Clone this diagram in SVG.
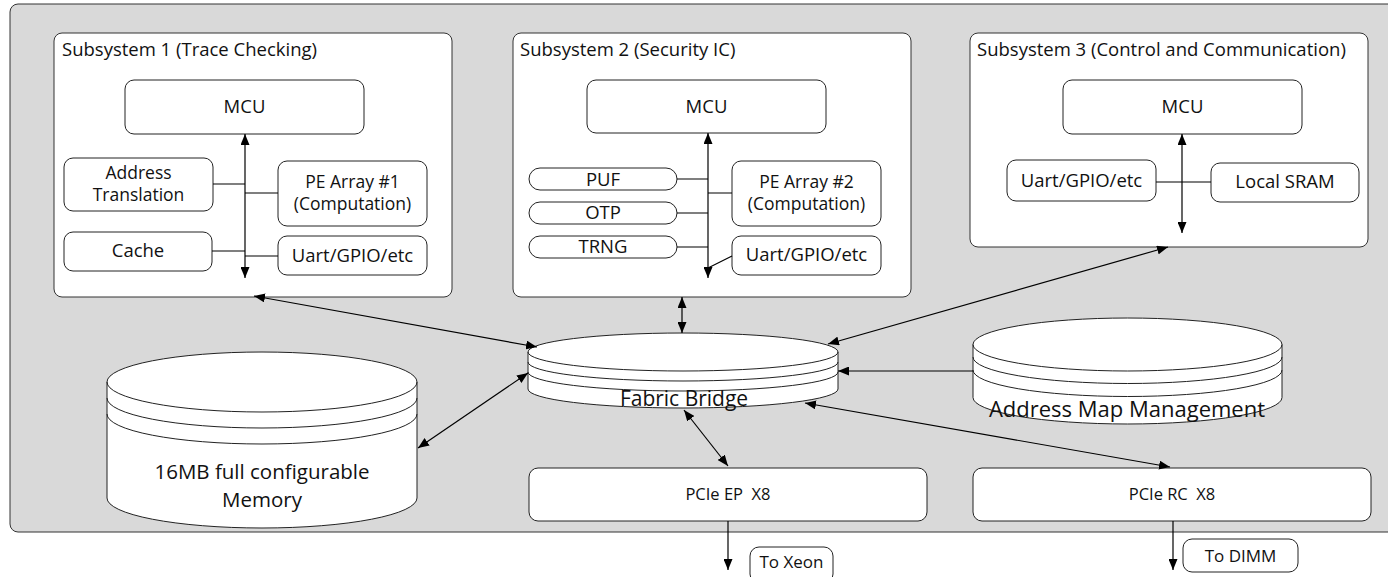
<svg xmlns="http://www.w3.org/2000/svg" width="1388" height="577" viewBox="0 0 1388 577">
  <defs>
    <marker id="arrow" viewBox="0 0 11 9" refX="11" refY="4.5" markerWidth="11" markerHeight="9" markerUnits="userSpaceOnUse" orient="auto-start-reverse">
      <path d="M0,0 L11,4.5 L0,9 Z" fill="#000"/>
    </marker>
    <style>
      text { font-family: "Open Sans", "Noto Sans", sans-serif; fill: #111; }
      .title { font-size: 18.5px; }
      .lbl { font-size: 18.5px; text-anchor: middle; }
      .lbl2 { font-size: 17.5px; text-anchor: middle; }
      .port { font-size: 16.5px; text-anchor: middle; }
      .fab { font-size: 21px; text-anchor: middle; }
      .amm { font-size: 22px; text-anchor: middle; }
      .mem { font-size: 20.5px; text-anchor: middle; }
      .tag { font-size: 17px; text-anchor: middle; }
      .panel { fill: #d9d9d9; stroke: #333; stroke-width: 1; }
      .sub { fill: #fff; stroke: #333; stroke-width: 1; }
      .box { fill: #fff; stroke: #222; stroke-width: 1; }
      .cyl { fill: #fff; stroke: #222; stroke-width: 1; }
      .ring { fill: none; stroke: #222; stroke-width: 1; }
      .wire { fill: none; stroke: #000; stroke-width: 1.2; }
      .both { marker-start: url(#arrow); marker-end: url(#arrow); }
      .one { marker-end: url(#arrow); }
    </style>
  </defs>

  <!-- chip outline -->
  <rect class="panel" x="10" y="4" width="1400" height="528" rx="8"/>

  <!-- Subsystem 1 -->
  <g id="subsystem1">
    <rect class="sub" x="54" y="33" width="398" height="264" rx="8"/>
    <text class="title" x="62" y="56">Subsystem 1 (Trace Checking)</text>
  </g>
  <g id="s1-mcu">
    <rect class="box" x="125" y="80" width="239" height="54" rx="9"/>
    <text class="lbl" x="244.5" y="113">MCU</text>
  </g>
  <g id="s1-addr">
    <rect class="box" x="64" y="158" width="149" height="53" rx="9"/>
    <text class="lbl2" x="138.5" y="179">Address</text>
    <text class="lbl2" x="138.5" y="201">Translation</text>
  </g>
  <g id="s1-pe">
    <rect class="box" x="278" y="161" width="149" height="65" rx="9"/>
    <text class="lbl2" x="352.5" y="188">PE Array #1</text>
    <text class="lbl2" x="352.5" y="210">(Computation)</text>
  </g>
  <g id="s1-cache">
    <rect class="box" x="64" y="232" width="148" height="39" rx="9"/>
    <text class="lbl" x="138" y="257">Cache</text>
  </g>
  <g id="s1-io">
    <rect class="box" x="278" y="236" width="149" height="39" rx="9"/>
    <text class="lbl" x="352.5" y="262">Uart/GPIO/etc</text>
  </g>

  <!-- Subsystem 2 -->
  <g id="subsystem2">
    <rect class="sub" x="513" y="33" width="398" height="264" rx="8"/>
    <text class="title" x="520" y="56">Subsystem 2 (Security IC)</text>
  </g>
  <g id="s2-mcu">
    <rect class="box" x="587" y="80" width="239" height="53" rx="9"/>
    <text class="lbl" x="706.5" y="113">MCU</text>
  </g>
  <g id="s2-puf">
    <rect class="box" x="529" y="168" width="148" height="22" rx="11"/>
    <text class="lbl" x="603" y="186">PUF</text>
  </g>
  <g id="s2-otp">
    <rect class="box" x="529" y="202" width="148" height="22" rx="11"/>
    <text class="lbl" x="603" y="219">OTP</text>
  </g>
  <g id="s2-trng">
    <rect class="box" x="529" y="236" width="148" height="22" rx="11"/>
    <text class="lbl" x="603" y="253">TRNG</text>
  </g>
  <g id="s2-pe">
    <rect class="box" x="732" y="161" width="149" height="65" rx="9"/>
    <text class="lbl2" x="806.5" y="188">PE Array #2</text>
    <text class="lbl2" x="806.5" y="210">(Computation)</text>
  </g>
  <g id="s2-io">
    <rect class="box" x="732" y="236" width="149" height="39" rx="9"/>
    <text class="lbl" x="806.5" y="261">Uart/GPIO/etc</text>
  </g>

  <!-- Subsystem 3 -->
  <g id="subsystem3">
    <rect class="sub" x="970" y="33" width="398" height="214" rx="8"/>
    <text class="title" x="977" y="56">Subsystem 3 (Control and Communication)</text>
  </g>
  <g id="s3-mcu">
    <rect class="box" x="1063" y="80" width="239" height="54" rx="9"/>
    <text class="lbl" x="1182.5" y="113">MCU</text>
  </g>
  <g id="s3-io">
    <rect class="box" x="1007" y="160" width="149" height="41" rx="9"/>
    <text class="lbl" x="1081.5" y="187">Uart/GPIO/etc</text>
  </g>
  <g id="s3-sram">
    <rect class="box" x="1211" y="163" width="148" height="39" rx="9"/>
    <text class="lbl" x="1285" y="188">Local SRAM</text>
  </g>

  <!-- 16MB memory (stacked cylinder) -->
  <g id="memory">
    <path class="cyl" d="M107,382 A155,30 0 0 1 417,382 L417,498 A155,30 0 0 1 107,498 Z"/>
    <path class="ring" d="M107,382 A155,30 0 0 0 417,382 M107,398 A155,30 0 0 0 417,398 M107,414 A155,30 0 0 0 417,414"/>
    <text class="mem" x="262" y="479">16MB full configurable</text>
    <text class="mem" x="262" y="507">Memory</text>
  </g>

  <!-- Fabric Bridge (stacked cylinder) -->
  <g id="fabric-bridge">
    <path class="cyl" d="M528,352 A155,19 0 0 1 838,352 L838,389 A155,19 0 0 1 528,389 Z"/>
    <path class="ring" d="M528,352 A155,19 0 0 0 838,352 M528,362 A155,19 0 0 0 838,362 M528,372 A155,19 0 0 0 838,372"/>
    <text class="fab" x="684" y="406">Fabric Bridge</text>
  </g>

  <!-- Address Map Management (stacked cylinder) -->
  <g id="address-map">
    <path class="cyl" d="M973,344.5 A154.5,26.5 0 0 1 1282,344.5 L1282,397.5 A154.5,26.5 0 0 1 973,397.5 Z"/>
    <path class="ring" d="M973,344.5 A154.5,26.5 0 0 0 1282,344.5 M973,357 A154.5,26.5 0 0 0 1282,357 M973,370 A154.5,26.5 0 0 0 1282,370"/>
    <text class="amm" x="1127" y="417">Address Map Management</text>
  </g>

  <!-- PCIe ports -->
  <g id="pcie-ep">
    <rect class="box" x="529" y="468" width="398" height="53" rx="9"/>
    <text class="port" x="728" y="500" xml:space="preserve">PCIe EP  X8</text>
  </g>
  <g id="pcie-rc">
    <rect class="box" x="973" y="468" width="398" height="53" rx="9"/>
    <text class="port" x="1172" y="500" xml:space="preserve">PCIe RC  X8</text>
  </g>

  <!-- off-chip tags -->
  <g id="to-xeon">
    <rect class="box" x="750" y="547" width="83" height="36" rx="9"/>
    <text class="tag" x="791.5" y="568">To Xeon</text>
  </g>
  <g id="to-dimm">
    <rect class="box" x="1183" y="539" width="115" height="33" rx="9"/>
    <text class="tag" x="1240.5" y="562">To DIMM</text>
  </g>

  <!-- connectors -->
  <g id="connectors">
    <!-- subsystem 1 local bus -->
    <path class="wire both" d="M245,134 L245,278"/>
    <path class="wire" d="M213,184 H245 M245,193 H278 M212,251 H245 M245,256 H278"/>
    <!-- subsystem 2 local bus -->
    <path class="wire both" d="M708,133 L708,278"/>
    <path class="wire" d="M677,179 H708 M677,213 H708 M677,247 H708 M708,193 H732 M732,256 L708,268"/>
    <!-- subsystem 3 local bus -->
    <path class="wire both" d="M1182,134 L1182,233"/>
    <path class="wire" d="M1156,182 H1211"/>
    <!-- fabric links -->
    <path class="wire both" d="M254,296 L537,347"/>
    <path class="wire both" d="M682,297 L682,333"/>
    <path class="wire both" d="M1168,247 L828,344"/>
    <path class="wire both" d="M418,448 L528,373"/>
    <path class="wire one" d="M973,371 L838,371"/>
    <path class="wire both" d="M684,410 L728,466"/>
    <path class="wire both" d="M805,403 L1170,467"/>
    <!-- off-chip -->
    <path class="wire one" d="M728,521 L728,570"/>
    <path class="wire one" d="M1173,521 L1173,570"/>
  </g>
</svg>
